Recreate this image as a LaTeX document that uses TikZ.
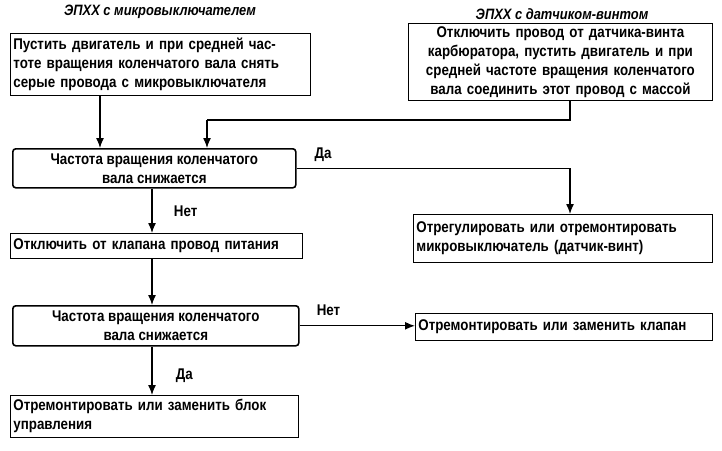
\documentclass[tikz,border=0pt]{standalone}
\usepackage{fontspec}
\setmainfont{Liberation Sans}[FakeStretch=0.86, BoldFont={Liberation Sans Bold}, BoldItalicFont={Liberation Sans Bold Italic}, BoldFeatures={FakeStretch=0.86}, BoldItalicFeatures={FakeStretch=0.86}]
\usetikzlibrary{positioning}
\usetikzlibrary{arrows.meta}
\begin{document}
\begin{tikzpicture}[x=1pt,y=-1pt,font=\bfseries\fontsize{15.5}{19}\selectfont,
    Step/.style={rectangle, draw=black, fill=white, thick, anchor=north west, inner sep=3pt, align=left},
    Check/.style={rectangle, rounded corners=3pt, draw=black, fill=white, line width=1.6pt, anchor=north west, align=center},
    Head/.style={font=\bfseries\itshape\fontsize{15}{17}\selectfont},
    Flow/.style={-{Latex[length=10pt,width=8pt]}, black, line width=1.3pt}]
    \useasboundingbox (0,0) rectangle (722,450);

    \node[Head] (H1) at (160,12) {ЭПХХ с микровыключателем};
    \node[Head] (H2) at (562,14) {ЭПХХ с датчиком-винтом};

    \node[Step, text width=294, minimum height=62] (B1) at (10,33)
        {Пустить двигатель и при средней час-\\
         тоте вращения коленчатого вала снять\\
         серые провода с микровыключателя};
    \node[Step, text width=298, minimum height=75, align=center] (B2) at (408,23)
        {Отключить провод от датчика-винта\\
         карбюратора, пустить двигатель и при\\
         средней частоте вращения коленчатого\\
         вала соединить этот провод с массой};

    \node[Check, minimum width=283, minimum height=39] (D1) at (12,148)
        {Частота вращения коленчатого\\вала снижается};
    \node[Step, text width=293, minimum height=48] (R1) at (413,214)
        {Отрегулировать или отремонтировать\\
         микровыключатель (датчик-винт)};
    \node[Step, text width=286, minimum height=25] (A) at (10,233)
        {Отключить от клапана провод питания};
    \node[Check, minimum width=286, minimum height=40] (D2) at (12,305)
        {Частота вращения коленчатого\\вала снижается};
    \node[Step, text width=291, minimum height=27] (R2) at (415,313)
        {Отремонтировать или заменить клапан};
    \node[Step, text width=282, minimum height=42] (E) at (10,395)
        {Отремонтировать или заменить блок\\управления};

    \coordinate (J1) at (570,120);
    \coordinate (J2) at (207,120);

    \draw[Flow] (B1.south -| 100,0) -- (D1.north -| 100,0);
    \draw[line width=1.3pt] (B2.south -| J1) -- (J1) -- (J2);
    \draw[Flow] (J2) -- (D1.north -| J2);
    \draw[Flow] (D1.east) node[above right=3pt and 14pt] {Да}
        -- (D1.east -| J1) -- (R1.north -| J1);
    \draw[Flow] (D1.south -| 152,0) -- (A.north -| 152,0)
        node[midway, right=18pt] {Нет};
    \draw[Flow] (A.south -| 152,0) -- (D2.north -| 152,0);
    \draw[Flow] (D2.east) -- (R2.west |- D2.east)
        node[pos=0.25, above=6pt] {Нет};
    \draw[Flow] (D2.south -| 152,0) -- (E.north -| 152,0)
        node[pos=0.6, right=20pt] {Да};
\end{tikzpicture}
\end{document}
